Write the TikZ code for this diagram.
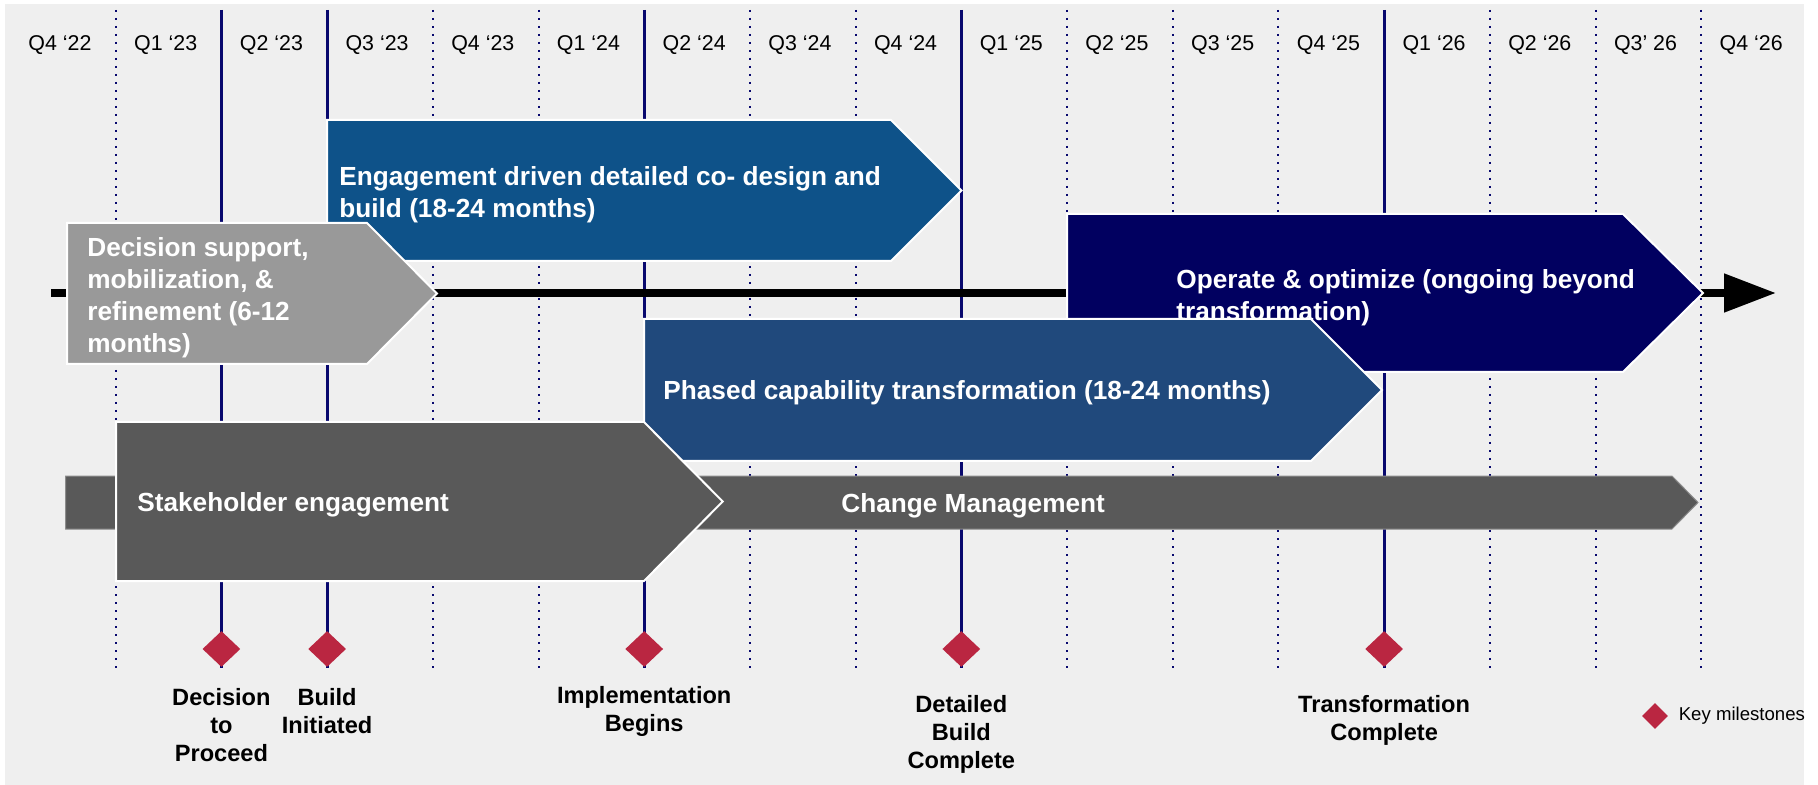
\documentclass[tikz,border=0pt]{standalone}
\usepackage{fontspec}
\setmainfont{Liberation Sans}
\usetikzlibrary{shapes.geometric,arrows.meta,positioning}

\definecolor{bgcolor}{RGB}{239,239,239}
\definecolor{gridcolor}{RGB}{8,8,110}
\definecolor{decisioncolor}{RGB}{153,153,153}
\definecolor{engagecolor}{RGB}{14,82,137}
\definecolor{operatecolor}{RGB}{1,0,96}
\definecolor{phasedcolor}{RGB}{32,73,124}
\definecolor{changecolor}{RGB}{89,89,89}
\definecolor{milecolor}{RGB}{186,38,65}

\begin{document}
\begin{tikzpicture}[x=0.5pt, y=-0.5pt,
    quarter/.style = {inner sep=0pt, font=\fontsize{10.7}{12}\selectfont},
    phase/.style = {draw=white, line width=1pt, line join=miter},
    phasetext/.style = {anchor=west, inner sep=0pt, text=white, align=left, font=\bfseries\fontsize{13.1}{16}\selectfont},
    milestone/.style = {diamond, fill=milecolor, inner sep=0pt, minimum width=19pt, minimum height=18pt},
    miletext/.style = {inner sep=0pt, align=center, font=\bfseries\fontsize{11.8}{14}\selectfont},
    solidgrid/.style = {gridcolor, line width=1.5pt},
    dotgrid/.style = {gridcolor, line width=1pt, dash pattern=on 1pt off 3pt}]
    \useasboundingbox (0,0) rectangle (1818,785);
    \fill[bgcolor] (5,4) rectangle (1804,785);

    % quarter grid
    \foreach \k in {0,3,4,6,7,9,10,11,13,14,15}
        \draw[dotgrid] ({115.7+105.7*\k},10) -- ({115.7+105.7*\k},668);
    \foreach \k in {1,2,5,8,12}
        \draw[solidgrid] ({115.7+105.7*\k},10) -- ({115.7+105.7*\k},668);
    \foreach \q [count=\i from 0] in {Q4 ‘22,Q1 ‘23,Q2 ‘23,Q3 ‘23,Q4 ‘23,Q1 ‘24,Q2 ‘24,Q3 ‘24,Q4 ‘24,Q1 ‘25,Q2 ‘25,Q3 ‘25,Q4 ‘25,Q1 ‘26,Q2 ‘26,Q3’ 26,Q4 ‘26}
        \node[quarter] (q\i) at ({60+105.7*\i},45) {\q};

    % time line
    \coordinate (tlstart) at (51,293);
    \coordinate (tlend) at (1776,293);
    \draw[line width=4pt, -{Triangle[length=26pt, width=18.5pt]}] (tlstart) -- (tlend);

    \path[phase, fill=engagecolor] (327,120) -- (891,120) -- (961.5,190.5) -- (891,261) -- (327,261) -- cycle;
    \node[phasetext] (engagetext) at (339,195) {Engagement driven detailed co- design and\\build (18-24 months)};

    \path[phase, fill=decisioncolor] (67,223) -- (367,223) -- (437,293.5) -- (367,364) -- (67,364) -- cycle;
    \node[phasetext] (decisiontext) at (87,298) {Decision support,\\mobilization, \&\\refinement (6-12\\months)};

    \path[phase, fill=operatecolor] (1067,214) -- (1623,214) -- (1703,293) -- (1623,372) -- (1067,372) -- cycle;
    \node[phasetext] (operatetext) at (1176,298) {Operate \& optimize (ongoing beyond\\transformation)};

    \path[phase, fill=phasedcolor] (644,319) -- (1311,319) -- (1382,390) -- (1311,461) -- (644,461) -- cycle;
    \node[phasetext] (phasedtext) at (663,393) {Phased capability transformation (18-24 months)};

    \path[fill=changecolor, draw=black!45, line width=0.5pt] (65.7,476) -- (1672,476) -- (1698,502.5) -- (1672,529) -- (65.7,529) -- cycle;
    \node[phasetext] (changetext) at (841,505.5) {Change Management};

    \path[phase, fill=changecolor] (116,422) -- (644,422) -- (722.7,501.5) -- (644,581) -- (116,581) -- cycle;
    \node[phasetext] (stakeholdertext) at (137,505) {Stakeholder engagement};

    % milestones
    \foreach \k/\m in {1/decide,2/build,5/implement,8/detailed,12/transform}
        \node[milestone] (m\m) at ({115.7+105.7*\k},649) {};
    \node[miletext] (decidetext) at (221.4,725) {Decision\\to\\Proceed};
    \node[miletext] (buildtext) at (327.1,711) {Build\\Initiated};
    \node[miletext] (implementtext) at (644.2,711) {Implementation\\Begins};
    \node[miletext] (detailedtext) at (961.3,734) {Detailed\\Build\\Complete};
    \node[miletext] (transformtext) at (1384.1,720) {Transformation\\Complete};

    \node[milestone, minimum width=13pt, minimum height=13pt] (keymark) at (1655,716) {};
    \node[inner sep=0pt, font=\fontsize{9.3}{11}\selectfont, right=5pt of keymark] (keytext) {Key milestones};
\end{tikzpicture}
\end{document}
